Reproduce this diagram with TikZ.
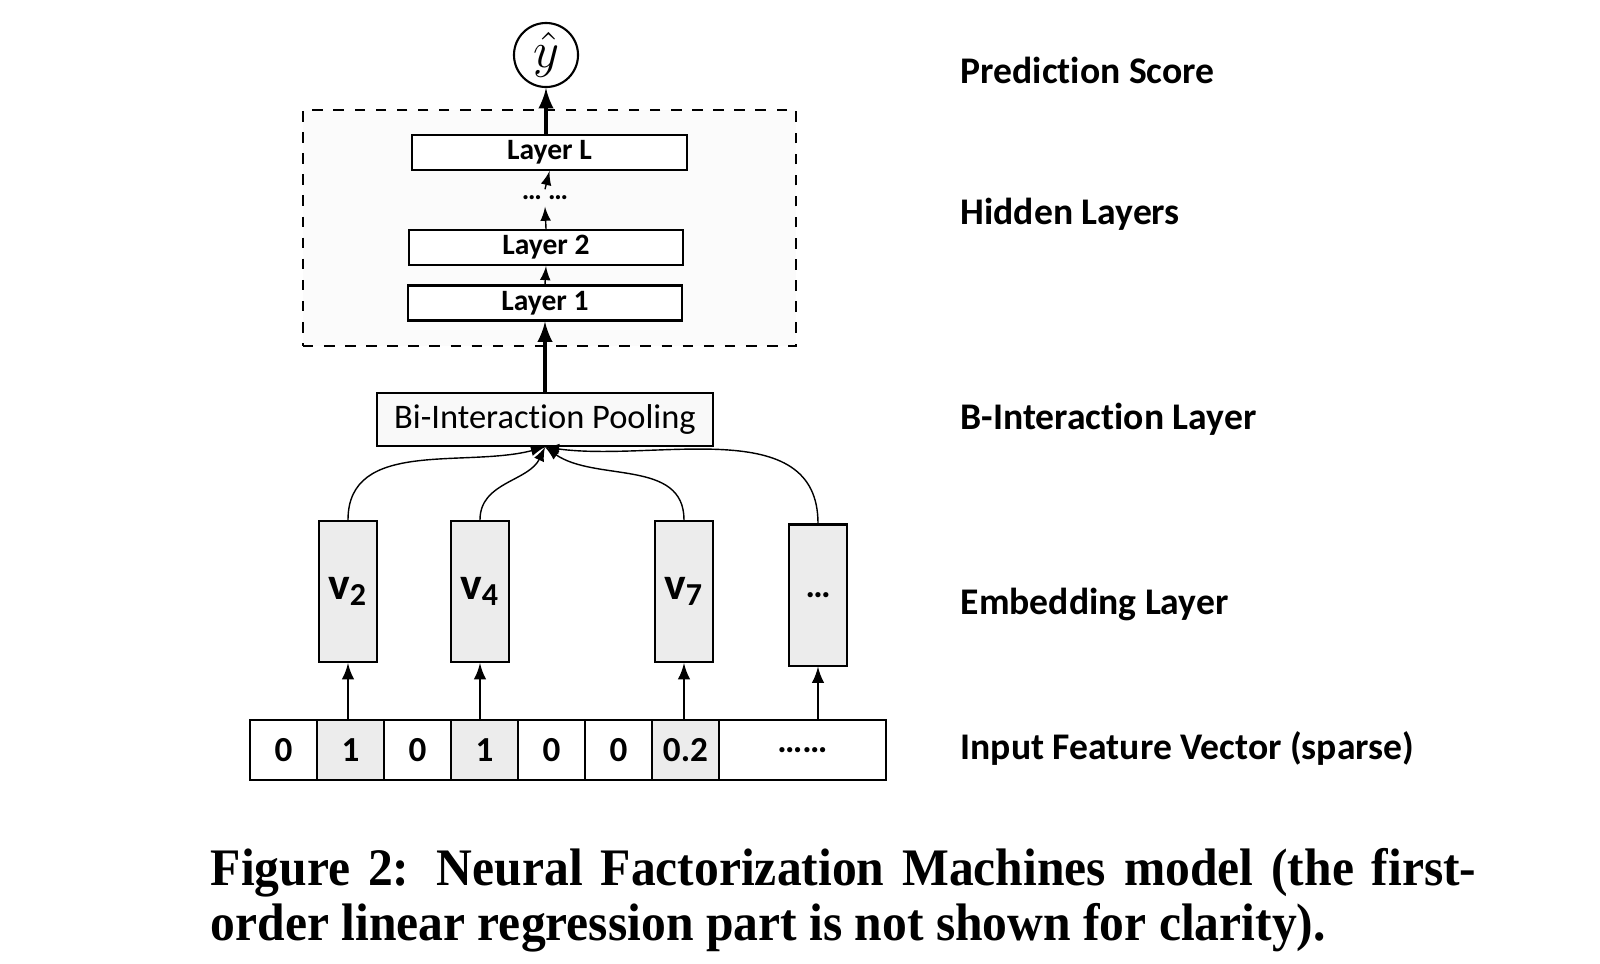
\documentclass[tikz,border=0pt]{standalone}
\usepackage{amsmath}
\usepackage{fontspec}
\setmainfont{Carlito}[Ligatures=NoCommon]
\newfontfamily\capfont[FakeStretch=0.94]{Liberation Serif}
\usepackage{tikz}

\begin{document}
\begin{tikzpicture}[> = latex, x = 0.01cm, y = -0.01cm]
    \tikzstyle{layer}=[rectangle, draw, semithick, fill=white, minimum width=2.74cm, minimum height=0.35cm, inner sep=0pt, font=\fontsize{8.4}{9}\selectfont\bfseries]
    \tikzstyle{emb}=[rectangle, draw, semithick, fill=gray!15, minimum width=0.58cm, minimum height=1.41cm, inner sep=0pt, font=\fontsize{13}{15}\selectfont\bfseries]
    \tikzstyle{cell}=[rectangle, draw, semithick, minimum width=0.67cm, minimum height=0.60cm, inner sep=0pt, font=\fontsize{10}{12}\selectfont\bfseries]
    \tikzstyle{side}=[anchor=west, inner sep=0pt, font=\fontsize{10.7}{13}\selectfont\bfseries]

    \useasboundingbox (0,0) rectangle (1600,963);

    % Camadas ocultas
    \node[draw, dashed, semithick, fill=gray!3, minimum width=4.93cm, minimum height=2.36cm] (hidden) at (549.5,228) {};
    \node[layer] (l1) at (545,303) {Layer 1};
    \node[layer] (l2) at (546,247.5) {Layer 2};
    \node[inner sep=0pt, minimum height=0.16cm, font=\fontsize{8}{9}\selectfont\bfseries] (ld) at (545,198) {\dots\ \dots};
    \node[layer] (lL) at (549.5,152.5) {Layer L};
    \node[circle, draw, semithick, fill=white, minimum size=0.64cm, inner sep=0pt, font=\Large] (y) at (546,55) {$\hat{y}$};

    % Pooling e embeddings
    \node[rectangle, draw, semithick, fill=gray!5, minimum width=3.36cm, minimum height=0.53cm, inner sep=0pt, font=\fontsize{9.8}{12}\selectfont] (bi) at (545,419.5) {Bi-Interaction Pooling};
    \node[emb] (v2) at (348,591.5) {v\textsubscript{2}};
    \node[emb] (v4) at (480,591.5) {v\textsubscript{4}};
    \node[emb] (v7) at (684,591.5) {v\textsubscript{7}};
    \node[emb, font=\fontsize{10}{12}\selectfont\bfseries] (vd) at (818,595) {\dots};

    % Vetor de entrada
    \foreach \v/\c [count=\i] in {0/white, 1/gray!15, 0/white, 1/gray!15, 0/white, 0/white, 0.2/gray!15}
        \node[cell, fill=\c] (c\i) at (216.5+67*\i,750) {\v};
    \node[cell, fill=white, minimum width=1.67cm] (c8) at (802.5,750) {\dots\dots};

    % Arestas
    \draw[->, line width=1pt] (y.south |- lL.north) -- (y.south);
    \draw[->, thin] (ld.north) -- (lL.south);
    \draw[->, thin] (l2.north) -- (ld.south);
    \draw[->, thin] (l1.north) -- (l2.south);
    \draw[->, line width=1pt] (bi.north) -- (l1.south);
    \draw[->, thin] (v2.north) to[out=90, in=195] (bi.south);
    \draw[->, thin] (v4.north) to[out=90, in=245] (bi.south);
    \draw[->, thin] (v7.north) to[out=90, in=-35] (bi.south);
    \draw[->, thin] (vd.north) to[out=90, in=-8] (bi.south);
    \draw[->, semithick] (v2.south |- c2.north) -- (v2.south);
    \draw[->, semithick] (v4.south |- c4.north) -- (v4.south);
    \draw[->, semithick] (v7.south |- c7.north) -- (v7.south);
    \draw[->, semithick] (vd.south |- c8.north) -- (vd.south);

    % Rótulos
    \node[side] (tp) at (960,70) {Prediction Score};
    \node[side] (th) at (960,214) {Hidden Layers};
    \node[side] (tb) at (960,419) {B-Interaction Layer};
    \node[side] (te) at (960,604) {Embedding Layer};
    \node[side] (ti) at (960,748) {Input Feature Vector (sparse)};

    % Legenda
    \node[anchor=north west, inner sep=0pt, align=left, font=\capfont\bfseries\fontsize{15}{15.6}\selectfont] (cap) at (210,848)
        {\makebox[12.65cm][s]{Figure 2: Neural Factorization Machines model (the first-}\\order linear regression part is not shown for clarity).};
\end{tikzpicture}
\end{document}
